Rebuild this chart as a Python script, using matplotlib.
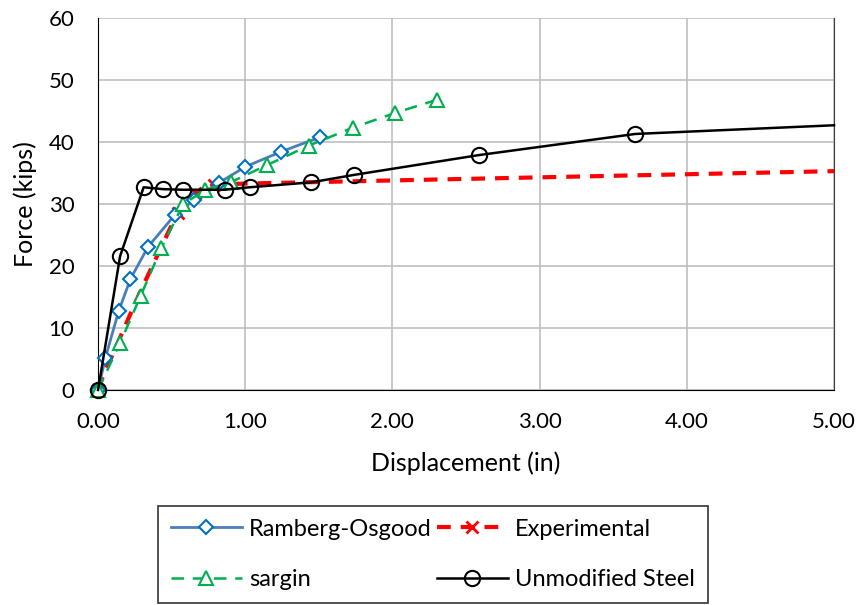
import matplotlib.pyplot as plt
from matplotlib.ticker import FormatStrFormatter

plt.rcParams['font.family'] = ['Lato', 'DejaVu Sans']

# ---------------- DATA ----------------
ro_x = [0.0, 0.05, 0.14, 0.22, 0.34, 0.52, 0.65, 0.82, 1.00, 1.24, 1.51]
ro_y = [0.0, 5.2, 12.7, 17.9, 23.1, 28.2, 30.6, 33.4, 36.0, 38.4, 40.8]

exp_x = [0.0, 0.03, 0.28, 0.54, 0.66, 0.79, 1.00, 5.00]
exp_y = [0.0, 2.0, 15.5, 28.6, 31.8, 33.1, 33.3, 35.3]

sar_x = [0.0, 0.15, 0.29, 0.43, 0.58, 0.73, 0.90, 1.15, 1.43, 1.73, 2.02, 2.30]
sar_y = [0.0, 7.6, 15.2, 22.9, 30.0, 32.3, 33.5, 36.3, 39.4, 42.3, 44.7, 46.8]

uns_x = [0.0, 0.15, 0.31, 0.44, 0.58, 0.86, 1.03, 1.45, 1.74, 2.59, 3.65, 5.00]
uns_y = [0.0, 21.6, 32.7, 32.4, 32.3, 32.3, 32.7, 33.5, 34.7, 37.9, 41.3, 42.7]

# ---------------- PLOT ----------------
fig = plt.figure(figsize=(8.63, 6.05), dpi=100)
ax = fig.add_axes([0.1136, 0.3554, 0.8528, 0.6148])

ax.plot(ro_x, ro_y, color='#4A7EBB', lw=2, marker='D', ms=7,
        mec='#0070C0', mfc='white', mew=1.5, label='Ramberg-Osgood',
        zorder=3, clip_on=False)
ax.plot(exp_x, exp_y, color='#FF0000', lw=3, ls=(0, (3.3, 2.4)), marker='x', ms=9,
        mew=2, label='Experimental', zorder=2, markevery=[0, 3, 4, 5], clip_on=False)
ax.plot(sar_x, sar_y, color='#00B050', lw=1.8, ls=(0, (5, 3.5)), marker='^', ms=10,
        mec='#00B050', mfc='white', mew=1.5, label='sargin', zorder=4, clip_on=False)
ax.plot(uns_x, uns_y, color='black', lw=1.8, marker='o', ms=11,
        mec='black', mfc='none', mew=1.5, label='Unmodified Steel', zorder=5,
        markevery=list(range(len(uns_x) - 1)), clip_on=False)

ax.set_xlim(0, 5)
ax.set_ylim(0, 60)
ax.set_xticks([0, 1, 2, 3, 4, 5])
ax.set_yticks(range(0, 61, 10))
ax.xaxis.set_major_formatter(FormatStrFormatter('%.2f'))
ax.grid(True, color='#BFBFBF', lw=1.2)
ax.set_axisbelow(True)
ax.tick_params(length=0, labelsize=16)
ax.tick_params(axis='x', pad=16)
ax.tick_params(axis='y', pad=17)

ax.spines['top'].set_visible(False)
ax.spines['right'].set_color('#404040')
ax.spines['left'].set_color('black')
ax.spines['bottom'].set_color('black')

ax.set_xlabel('Displacement (in)', fontsize=18, labelpad=14)
ax.set_ylabel('Force (kips)', fontsize=18, labelpad=8)

h, l = ax.get_legend_handles_labels()
order = [0, 2, 1, 3]
leg = fig.legend([h[i] for i in order], [l[i] for i in order], ncol=2,
                 loc='lower left', bbox_to_anchor=(0.183, 0.003, 0.637, 0.157),
                 mode='expand', fontsize=17, frameon=True, fancybox=False,
                 edgecolor='black', handlelength=3.0, handletextpad=0.3,
                 borderaxespad=0, labelspacing=1.25, columnspacing=0.2,
                 borderpad=0.55)
leg.get_frame().set_linewidth(1.2)

fig.savefig('out.png', dpi=100)
